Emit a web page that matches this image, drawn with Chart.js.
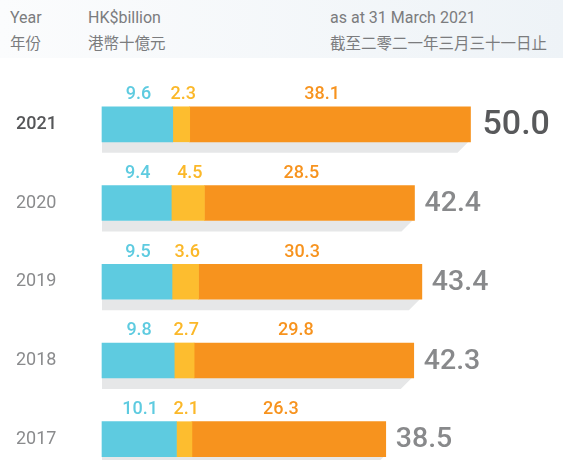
<!DOCTYPE html>
<html>
<head>
<meta charset="utf-8">
<script src="https://cdn.jsdelivr.net/npm/chart.js@4.4.0/dist/chart.umd.min.js"></script>
<style>
  html, body { margin:0; padding:0; background:#fff; }
  body { width:563px; height:460px; position:relative; overflow:hidden; font-family: Roboto, "Noto Sans CJK TC", sans-serif; }
  #hdr { position:absolute; left:0; top:0; width:563px; height:58px; background:linear-gradient(to right, #fbfcfd, #eef3f7); }
  .h { position:absolute; font-size:16px; color:#7b7c7e; white-space:nowrap; line-height:20px; }
  .zh { font-family: "Noto Sans CJK TC", sans-serif; font-size:15.5px; }
  #wrap { position:absolute; left:0; top:0; width:563px; height:460px; }
</style>
</head>
<body>
<div id="hdr"></div>
<div class="h" style="left:10px; top:8px;">Year</div>
<div class="h zh" style="left:10px; top:32px;">年份</div>
<div class="h" style="left:88px; top:8px;">HK$billion</div>
<div class="h zh" style="left:88px; top:32px;">港幣十億元</div>
<div class="h" style="left:330px; top:8px;">as at 31 March 2021</div>
<div class="h zh" style="left:330px; top:32px;">截至二零二一年三月三十一日止</div>
<div id="wrap"><canvas id="c" width="563" height="460"></canvas></div>
<script>
const years = ['2021', '2020', '2019', '2018', '2017'];
const cyanValues = [9.6, 9.4, 9.5, 9.8, 10.1];
const yellowValues = [2.3, 4.5, 3.6, 2.7, 2.1];
const orangeValues = [38.1, 28.5, 30.3, 29.8, 26.3];
const totals = [50.0, 42.4, 43.4, 42.3, 38.5];

const colors = ['#5ecbe0', '#fdbd2f', '#f7931e'];
const labelColors = ['#5ecbe0', '#fbb829', '#f7931e'];
const labelShift = [1, 2, -8];

const shadowPlugin = {
  id: 'shadow',
  beforeDatasetsDraw(chart) {
    const ctx = chart.ctx;
    const meta = chart.getDatasetMeta(2);
    const x0 = chart.scales.x.getPixelForValue(0);
    ctx.save();
    ctx.fillStyle = '#e6e7e8';
    meta.data.forEach((bar) => {
      const bottom = bar.y + bar.height / 2;
      const right = bar.x - 2;
      const d = 11;
      ctx.beginPath();
      ctx.moveTo(x0, bottom);
      ctx.lineTo(right, bottom);
      ctx.lineTo(right - d, bottom + d);
      ctx.lineTo(x0, bottom + d);
      ctx.closePath();
      ctx.fill();
    });
    ctx.restore();
  }
};

const labelPlugin = {
  id: 'labels',
  afterDatasetsDraw(chart) {
    const ctx = chart.ctx;
    ctx.save();
    ctx.textBaseline = 'middle';
    chart.data.datasets.forEach((ds, di) => {
      const meta = chart.getDatasetMeta(di);
      meta.data.forEach((bar, i) => {
        const cx = (bar.base + bar.x) / 2 + labelShift[di];
        const cy = bar.y - bar.height / 2 - 12;
        ctx.font = '500 18px Roboto';
        ctx.fillStyle = labelColors[di];
        ctx.textAlign = 'center';
        ctx.fillText(ds.data[i].toFixed(1), cx, cy);
      });
    });
    const last = chart.getDatasetMeta(2);
    last.data.forEach((bar, i) => {
      const big = i === 0;
      ctx.font = big ? '500 34px Roboto' : '500 28.5px Roboto';
      ctx.fillStyle = big ? '#58595b' : '#88898b';
      ctx.textAlign = 'left';
      ctx.fillText(totals[i].toFixed(1), bar.x + (big ? 12 : 10), bar.y + 1);
    });
    ctx.restore();
  }
};

new Chart(document.getElementById('c'), {
  type: 'bar',
  data: {
    labels: years,
    datasets: [
      { data: cyanValues, backgroundColor: colors[0] },
      { data: yellowValues, backgroundColor: colors[1] },
      { data: orangeValues, backgroundColor: colors[2] }
    ].map(d => Object.assign(d, { barThickness: 35, borderWidth: 0, clip: false }))
  },
  options: {
    indexAxis: 'y',
    responsive: false,
    animation: false,
    events: [],
    layout: { padding: { left: 16, right: 18.8, top: 124.3, bottom: 20.8 } },
    plugins: { legend: { display: false }, tooltip: { enabled: false } },
    scales: {
      x: { stacked: true, min: 0, max: 60, display: false },
      y: {
        stacked: true,
        offset: false,
        border: { display: false },
        grid: { display: false },
        afterFit(axis) { axis.width = 86; },
        ticks: {
          crossAlign: 'far',
          padding: 0,
          font: (ctx) => ({ family: 'Roboto', size: 18, weight: ctx.index === 0 ? '500' : '400' }),
          color: (ctx) => ctx.index === 0 ? '#555658' : '#8a8b8d'
        }
      }
    }
  },
  plugins: [shadowPlugin, labelPlugin]
});
</script>
</body>
</html>
